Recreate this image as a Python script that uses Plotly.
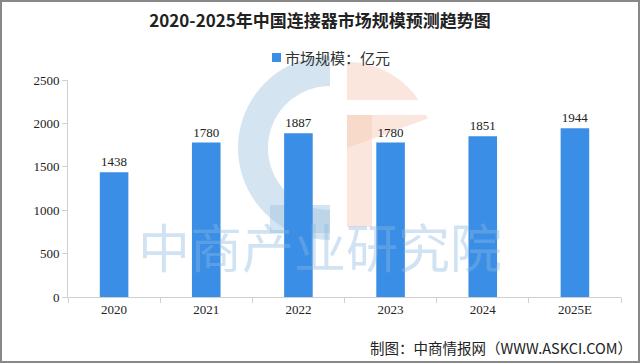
import math
import plotly.graph_objects as go

categories = ["2020", "2021", "2022", "2023", "2024", "2025E"]
values = [1438, 1780, 1887, 1780, 1851, 1944]
y_ticks = [0, 500, 1000, 1500, 2000, 2500]
series_name = "市场规模：亿元"
bar_color = "#3a8ee6"

W, H = 640, 363
L, R, T, B = 68, 19, 80, 66
pw, ph = W - L - R, H - T - B


def px(x):
    return (x - L) / pw


def py(y):
    return (H - B - y) / ph


fig = go.Figure()
fig.add_trace(go.Bar(
    x=categories, y=values, name=series_name, showlegend=False,
    marker=dict(color=bar_color, line=dict(width=0)),
    width=0.31,
    text=[str(v) for v in values], textposition="outside",
    textfont=dict(size=13, color="#222222", family="Liberation Serif"),
    cliponaxis=False,
))

fig.update_layout(
    width=W, height=H,
    margin=dict(l=L, r=R, t=T, b=B),
    paper_bgcolor="white", plot_bgcolor="rgba(0,0,0,0)",
    font=dict(family="Noto Sans CJK SC", color="#222222"),
    title=dict(text="<b>2020-2025年中国连接器市场规模预测趋势图</b>",
               x=0.5, xanchor="center", y=1 - 21 / H, yanchor="middle",
               font=dict(size=17, color="#222222")),
    showlegend=False,
    bargap=0.69,
    xaxis=dict(showline=True, linecolor="#d0d0d0", linewidth=1,
               ticks="outside", tickcolor="#d0d0d0", ticklen=5,
               tickson="boundaries", showgrid=False,
               tickfont=dict(size=13, family="Liberation Serif", color="#222222")),
    yaxis=dict(range=[0, 2500], tickvals=y_ticks, showline=True, linecolor="#d0d0d0",
               linewidth=1, ticks="outside", tickcolor="#d0d0d0", ticklen=5,
               showgrid=False, zeroline=False,
               tickfont=dict(size=13, family="Liberation Serif", color="#222222")),
)

# legend: swatch + text
fig.add_shape(type="rect", xref="paper", yref="paper",
              x0=px(272), x1=px(281), y0=py(62), y1=py(53),
              fillcolor=bar_color, line=dict(width=0))
fig.add_annotation(text=series_name, xref="paper", yref="paper",
                   x=px(283), xanchor="left", y=py(57.5), yanchor="middle",
                   showarrow=False, font=dict(size=15, color="#333333"))


def ring_path(cx, cy, ro, ri, a0, a1, n=40):
    pts_o = []
    pts_i = []
    for k in range(n + 1):
        a = math.radians(a0 + (a1 - a0) * k / n)
        pts_o.append((cx + ro * math.cos(a), cy - ro * math.sin(a)))
        pts_i.append((cx + ri * math.cos(a), cy - ri * math.sin(a)))
    pts = pts_o + pts_i[::-1]
    return "M " + " L ".join(f"{px(x):.4f},{py(y):.4f}" for x, y in pts) + " Z"


# watermark logo: blue C ring (left) and orange arc (right)
fig.add_shape(type="path", xref="paper", yref="paper", layer="below",
              path=ring_path(330, 148, 92, 62, 90, 270),
              fillcolor="rgba(160,195,225,0.45)", line=dict(width=0))
fig.add_shape(type="rect", xref="paper", yref="paper", layer="below",
              x0=px(270), x1=px(330), y0=py(233), y1=py(205),
              fillcolor="rgba(160,195,225,0.45)", line=dict(width=0))
fig.add_shape(type="path", xref="paper", yref="paper", layer="below",
              path=ring_path(347, 148, 86, 0.1, 20, 90),
              fillcolor="rgba(245,205,185,0.5)", line=dict(width=0))
fig.add_shape(type="rect", xref="paper", yref="paper", layer="below",
              x0=px(347), x1=px(372), y0=py(227), y1=py(110),
              fillcolor="rgba(245,205,185,0.5)", line=dict(width=0))
fig.add_shape(type="rect", xref="paper", yref="paper", layer="below",
              x0=px(347), x1=px(440), y0=py(115), y1=py(100),
              fillcolor="white", line=dict(width=0))

# watermark text
fig.add_annotation(text="中商产业研究院", xref="paper", yref="paper",
                   x=px(320), y=py(285), showarrow=False,
                   font=dict(size=52, color="rgba(140,185,225,0.40)", family="Noto Sans CJK SC"))

# footer
fig.add_annotation(text="制图：中商情报网（WWW.ASKCI.COM）", xref="paper", yref="paper",
                   x=px(634), xanchor="right", y=py(347), yanchor="middle",
                   showarrow=False, font=dict(size=14.5, color="#222222"))

# outer frame
fig.add_shape(type="rect", xref="paper", yref="paper",
              x0=px(1), x1=px(W - 1), y0=py(H - 1), y1=py(1),
              line=dict(color="#888888", width=2), fillcolor="rgba(0,0,0,0)")

fig.write_html("out.html", config={"displayModeBar": False},
               post_script="document.body.style.margin='0';")
